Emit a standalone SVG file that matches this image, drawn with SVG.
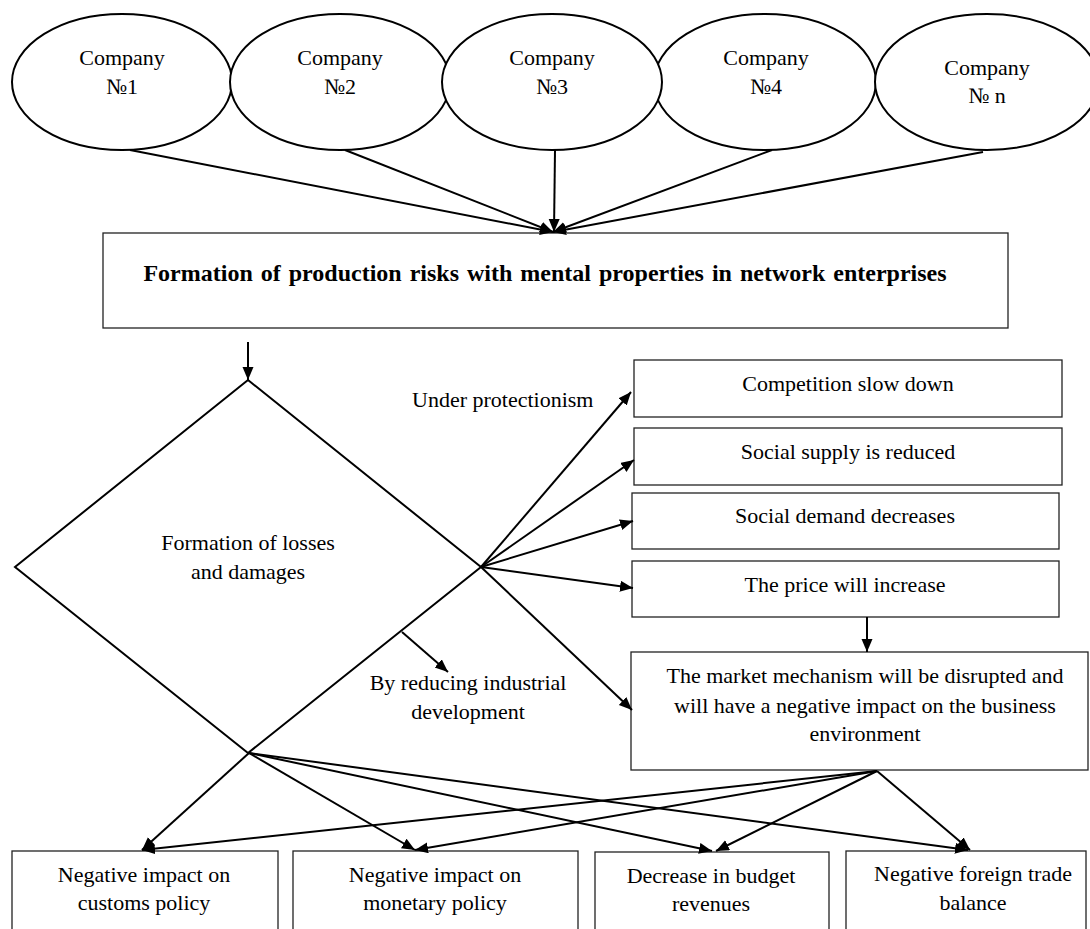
<svg xmlns="http://www.w3.org/2000/svg" width="1090" height="929" viewBox="0 0 1090 929">
<defs>
<marker id="ah" markerWidth="14" markerHeight="12" refX="13" refY="5.5" orient="auto" markerUnits="userSpaceOnUse">
<path d="M0,0 L13,5.5 L0,11 z" fill="#000"/>
</marker>
<style>
.t{font-family:"Liberation Serif","Times New Roman",serif;font-size:22px;fill:#000;text-anchor:middle}
.b{font-weight:bold;font-size:24px}
.el{fill:#fff;stroke:#000;stroke-width:2}
.bx{fill:#fff;stroke:#222;stroke-width:1.3}
.dm{fill:none;stroke:#000;stroke-width:2}
.c line{stroke:#000;stroke-width:2;marker-end:url(#ah)}
</style>
</defs>
<rect width="1090" height="929" fill="#fff"/>

<g id="company1"><ellipse class="el" cx="122" cy="82" rx="110" ry="68"/><text class="t" x="122" y="65">Company</text><text class="t" x="122" y="94">№1</text></g>
<g id="company2"><ellipse class="el" cx="340" cy="82" rx="110" ry="68"/><text class="t" x="340" y="65">Company</text><text class="t" x="340" y="94">№2</text></g>
<g id="company4"><ellipse class="el" cx="765" cy="82" rx="111" ry="68"/><text class="t" x="766" y="65">Company</text><text class="t" x="766" y="94">№4</text></g>
<g id="company3"><ellipse class="el" cx="552" cy="82" rx="110" ry="68"/><text class="t" x="552" y="65">Company</text><text class="t" x="552" y="94">№3</text></g>
<g id="companyn"><ellipse class="el" cx="987" cy="82" rx="112" ry="68"/><text class="t" x="987" y="75">Company</text><text class="t" x="987" y="103">№ n</text></g>

<g id="formation"><rect class="bx" x="103" y="233" width="905" height="95"/><text class="t b" x="545" y="281" word-spacing="2">Formation of production risks with mental properties in network enterprises</text></g>

<g id="losses"><path class="dm" d="M248,380 L481,567 L248,753 L15,567 Z"/><text class="t" x="248" y="550">Formation of losses</text><text class="t" x="248" y="579">and damages</text></g>

<g id="competition"><rect class="bx" x="634" y="360" width="428" height="57"/><text class="t" x="848" y="391">Competition slow down</text></g>
<g id="supply"><rect class="bx" x="634" y="428" width="428" height="57"/><text class="t" x="848" y="459">Social supply is reduced</text></g>
<g id="demand"><rect class="bx" x="632" y="493" width="427" height="56"/><text class="t" x="845" y="523">Social demand decreases</text></g>
<g id="price"><rect class="bx" x="632" y="561" width="427" height="56"/><text class="t" x="845" y="592">The price will increase</text></g>
<g id="market"><rect class="bx" x="631" y="652" width="457" height="118"/><text class="t" x="865" y="683">The market mechanism will be disrupted and</text><text class="t" x="865" y="713">will have a negative impact on the business</text><text class="t" x="865" y="741">environment</text></g>

<g id="customs"><rect class="bx" x="12" y="851" width="266" height="90"/><text class="t" x="144" y="882">Negative impact on</text><text class="t" x="144" y="910">customs policy</text></g>
<g id="monetary"><rect class="bx" x="293" y="851" width="285" height="90"/><text class="t" x="435" y="882">Negative impact on</text><text class="t" x="435" y="910">monetary policy</text></g>
<g id="budget"><rect class="bx" x="595" y="852" width="234" height="90"/><text class="t" x="711" y="883">Decrease in budget</text><text class="t" x="711" y="911">revenues</text></g>
<g id="trade"><rect class="bx" x="846" y="851" width="240" height="90"/><text class="t" x="973" y="881">Negative foreign trade</text><text class="t" x="973" y="910">balance</text></g>

<g id="labels">
<text class="t" x="412" y="407" style="text-anchor:start">Under protectionism</text>
<text class="t" x="468" y="690">By reducing industrial</text>
<text class="t" x="468" y="719">development</text>
</g>

<g id="connectors" class="c">
<line x1="130" y1="150" x2="553" y2="232"/>
<line x1="345" y1="150" x2="553" y2="232"/>
<line x1="555" y1="150" x2="554" y2="232"/>
<line x1="772" y1="150" x2="553" y2="232"/>
<line x1="983" y1="152" x2="553" y2="232"/>
<line x1="248" y1="342" x2="248" y2="380"/>
<line x1="481" y1="567" x2="631" y2="392"/>
<line x1="481" y1="567" x2="634" y2="460"/>
<line x1="481" y1="567" x2="633" y2="521"/>
<line x1="481" y1="567" x2="633" y2="588"/>
<line x1="481" y1="567" x2="632" y2="710"/>
<line x1="402" y1="632" x2="448" y2="672"/>
<line x1="867" y1="617" x2="867" y2="652"/>
<line x1="249" y1="753" x2="142" y2="850"/>
<line x1="249" y1="753" x2="415" y2="850"/>
<line x1="249" y1="753" x2="712" y2="851"/>
<line x1="249" y1="753" x2="968" y2="850"/>
<line x1="877" y1="771" x2="142" y2="850"/>
<line x1="877" y1="771" x2="415" y2="850"/>
<line x1="877" y1="771" x2="716" y2="851"/>
<line x1="877" y1="771" x2="970" y2="850"/>
</g>
</svg>
